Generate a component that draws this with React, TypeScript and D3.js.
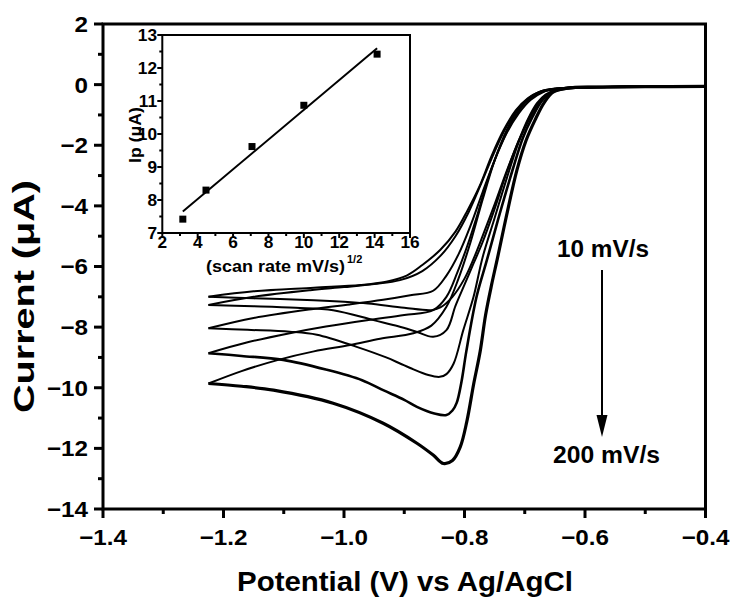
import React from "react";
import * as d3 from "d3";

// Forward (cathodic) branches: E (V) from -0.4 to -1.225, I (μA)
const F10: [number, number][] = [
  [-0.4, -0.06], [-0.5, -0.07], [-0.6, -0.09], [-0.645, -0.15], [-0.665, -0.32], [-0.68, -0.62], [-0.695, -1.15],
  [-0.71, -1.85], [-0.73, -2.85], [-0.75, -3.95], [-0.77, -5.0], [-0.785, -5.75], [-0.8, -6.4], [-0.82, -7.0],
  [-0.84, -7.35], [-0.855, -7.44], [-0.9, -7.36], [-0.96, -7.22], [-1.0, -7.16], [-1.05, -7.11], [-1.15, -7.05], [-1.225, -7.0],
];
const F20: [number, number][] = [
  [-0.4, -0.06], [-0.5, -0.07], [-0.6, -0.09], [-0.64, -0.14], [-0.66, -0.28], [-0.675, -0.55], [-0.69, -1.05],
  [-0.71, -1.85], [-0.73, -2.9], [-0.75, -4.1], [-0.77, -5.2], [-0.785, -5.9], [-0.8, -6.6], [-0.815, -7.3],
  [-0.83, -8.1], [-0.852, -8.32], [-0.88, -8.15], [-0.91, -7.97], [-0.951, -7.77], [-1.018, -7.44], [-1.08, -7.36], [-1.15, -7.31], [-1.225, -7.27],
];
const F50: [number, number][] = [
  [-0.4, -0.06], [-0.5, -0.07], [-0.61, -0.1], [-0.65, -0.22], [-0.67, -0.45], [-0.69, -1.0], [-0.71, -1.9],
  [-0.73, -3.1], [-0.75, -4.4], [-0.77, -5.7], [-0.785, -7.0], [-0.802, -8.1], [-0.818, -9.2], [-0.83, -9.55],
  [-0.841, -9.64], [-0.86, -9.58], [-0.89, -9.35], [-0.907, -9.2], [-0.93, -9.0], [-0.979, -8.65], [-1.045, -8.25], [-1.09, -8.15], [-1.16, -8.09], [-1.225, -8.04],
];
const F100: [number, number][] = [
  [-0.4, -0.06], [-0.5, -0.07], [-0.58, -0.08], [-0.635, -0.12], [-0.656, -0.25], [-0.672, -0.55], [-0.688, -1.1],
  [-0.703, -1.75], [-0.72, -2.8], [-0.745, -4.5], [-0.763, -5.8], [-0.78, -7.0], [-0.797, -8.8], [-0.805, -9.8],
  [-0.813, -10.5], [-0.82, -10.75], [-0.83, -10.9], [-0.85, -10.85], [-0.879, -10.63], [-0.9, -10.4], [-0.935, -10.08],
  [-0.97, -9.75], [-1.03, -9.4], [-1.101, -9.08], [-1.17, -8.95], [-1.225, -8.86],
];
const F200: [number, number][] = [
  [-0.4, -0.06], [-0.5, -0.07], [-0.58, -0.08], [-0.63, -0.12], [-0.653, -0.25], [-0.668, -0.6], [-0.683, -1.17],
  [-0.698, -1.85], [-0.713, -2.82], [-0.73, -4.3], [-0.745, -5.7], [-0.755, -6.6], [-0.765, -7.6], [-0.774, -8.8],
  [-0.785, -9.9], [-0.796, -11.1], [-0.807, -11.95], [-0.82, -12.4], [-0.835, -12.5], [-0.852, -12.22], [-0.879, -11.83],
  [-0.935, -11.17], [-1.018, -10.51], [-1.117, -10.08], [-1.17, -9.95], [-1.225, -9.86],
];

// Reverse (return) branches: E from -1.225 back to -0.4
const R10: [number, number][] = [
  [-1.225, -7.0], [-1.15, -6.82], [-1.05, -6.7], [-0.973, -6.61], [-0.93, -6.5], [-0.896, -6.3], [-0.87, -5.95],
  [-0.84, -5.45], [-0.815, -4.85], [-0.795, -4.15], [-0.775, -3.35], [-0.755, -2.35], [-0.735, -1.5], [-0.715, -0.85],
  [-0.695, -0.45], [-0.675, -0.23], [-0.65, -0.13], [-0.6, -0.09], [-0.5, -0.07], [-0.4, -0.06],
];
const R20: [number, number][] = [
  [-1.225, -7.27], [-1.15, -7.0], [-1.056, -6.78], [-1.0, -6.68], [-0.95, -6.58], [-0.907, -6.45], [-0.87, -6.15],
  [-0.84, -5.65], [-0.815, -5.0], [-0.793, -4.2], [-0.772, -3.25], [-0.752, -2.3], [-0.732, -1.45], [-0.712, -0.82],
  [-0.692, -0.43], [-0.672, -0.22], [-0.647, -0.13], [-0.6, -0.09], [-0.5, -0.07], [-0.4, -0.06],
];
const R50: [number, number][] = [
  [-1.225, -8.04], [-1.15, -7.7], [-1.051, -7.4], [-0.99, -7.25], [-0.935, -7.1], [-0.89, -6.95], [-0.852, -6.8],
  [-0.83, -6.3], [-0.81, -5.6], [-0.79, -4.65], [-0.77, -3.55], [-0.75, -2.5], [-0.73, -1.6], [-0.71, -0.95],
  [-0.69, -0.5], [-0.67, -0.25], [-0.645, -0.14], [-0.6, -0.09], [-0.5, -0.07], [-0.4, -0.06],
];
const R100: [number, number][] = [
  [-1.225, -8.86], [-1.16, -8.5], [-1.09, -8.2], [-1.03, -7.98], [-0.962, -7.77], [-0.9, -7.6], [-0.852, -7.44],
  [-0.83, -7.0], [-0.812, -6.2], [-0.795, -5.3], [-0.778, -4.25], [-0.76, -3.05], [-0.74, -2.0], [-0.72, -1.2],
  [-0.7, -0.62], [-0.68, -0.32], [-0.66, -0.18], [-0.63, -0.11], [-0.58, -0.08], [-0.5, -0.07], [-0.4, -0.06],
];
const R200: [number, number][] = [
  [-1.225, -9.86], [-1.17, -9.45], [-1.109, -9.08], [-1.05, -8.8], [-0.99, -8.59], [-0.94, -8.38], [-0.885, -8.2],
  [-0.855, -7.95], [-0.83, -7.33], [-0.81, -6.4], [-0.79, -5.2], [-0.77, -3.8], [-0.75, -2.5], [-0.73, -1.5],
  [-0.71, -0.8], [-0.69, -0.4], [-0.67, -0.2], [-0.64, -0.12], [-0.6, -0.09], [-0.5, -0.07], [-0.4, -0.06],
];

const branches = [F10, R10, F20, R20, F50, R50, F100, R100, F200, R200];
const branchWidths = [2, 2, 2, 2, 2, 2, 2.6, 2, 3.2, 2];

// Inset: peak current vs square root of scan rate
const sqrtRate = [3.16, 4.47, 7.07, 10.0, 14.14];
const peakCurrent = [7.42, 8.3, 9.62, 10.87, 12.42];
const fitX = [3.16, 14.14];
const fitY = [7.65, 12.6];

const mainXTicks = [-1.4, -1.2, -1.0, -0.8, -0.6, -0.4];
const mainXMinor = [-1.3, -1.1, -0.9, -0.7, -0.5];
const mainYTicks = [2, 0, -2, -4, -6, -8, -10, -12, -14];
const mainYMinor = [1, -1, -3, -5, -7, -9, -11, -13];
const insetXTicks = [2, 4, 6, 8, 10, 12, 14, 16];
const insetXMinor = [3, 5, 7, 9, 11, 13, 15];
const insetYTicks = [7, 8, 9, 10, 11, 12, 13];
const insetYMinor = [7.5, 8.5, 9.5, 10.5, 11.5, 12.5];

const FONT = "Arial, 'Liberation Sans', Helvetica, sans-serif";
const fmt = (v: number, d: number) => (v < 0 ? "\u2212" : "") + Math.abs(v).toFixed(d);

function SText(props: { x: number; y: number; sx: number; size: number; anchor: string; dy?: string; children: any }) {
  const { x, y, sx, size, anchor, dy, children } = props;
  return (
    <g transform={`translate(${x},${y}) scale(${sx},1)`}>
      <text x={0} y={0} dy={dy} textAnchor={anchor} fontSize={size} fontWeight="bold">
        {children}
      </text>
    </g>
  );
}

export default function App() {
  const W = 733, H = 598;
  const x = d3.scaleLinear().domain([-1.4, -0.4]).range([103, 705.5]);
  const y = d3.scaleLinear().domain([-14, 2]).range([509, 24]);
  const ix = d3.scaleLinear().domain([2, 16]).range([162.3, 410]);
  const iy = d3.scaleLinear().domain([7, 13]).range([233, 35]);

  const line = d3
    .line<[number, number]>()
    .x((d) => x(d[0]))
    .y((d) => y(d[1]))
    .curve(d3.curveCatmullRom.alpha(0.5));

  const x0 = x(-1.4), x1 = x(-0.4), y0 = y(-14), y1 = y(2);
  const ix0 = ix(2), ix1 = ix(16), iy0 = iy(7), iy1 = iy(13);

  return (
    <svg width={W} height={H} style={{ position: "absolute", left: 0, top: 0, background: "#fff" }} fontFamily={FONT}>
      <rect x={0} y={0} width={W} height={H} fill="#fff" />
      {/* curves */}
      <g fill="none" stroke="#000" strokeLinejoin="round">
        {branches.map((b, i) => (
          <path key={i} d={line(b) || ""} strokeWidth={branchWidths[i]} />
        ))}
      </g>

      {/* main frame */}
      <rect x={x0} y={y1} width={x1 - x0} height={y0 - y1} fill="none" stroke="#000" strokeWidth={3} />

      {/* main x ticks */}
      {mainXTicks.map((t) => (
        <g key={"mx" + t}>
          <line x1={x(t)} x2={x(t)} y1={y0} y2={y0 + 9} stroke="#000" strokeWidth={3} />
          <SText x={x(t)} y={545} sx={1.1} size={22} anchor="middle">
            {fmt(t, 1)}
          </SText>
        </g>
      ))}
      {mainXMinor.map((t) => (
        <line key={"mxm" + t} x1={x(t)} x2={x(t)} y1={y0} y2={y0 + 5} stroke="#000" strokeWidth={3} />
      ))}
      {/* main y ticks */}
      {mainYTicks.map((t) => (
        <g key={"my" + t}>
          <line x1={x0 - 9} x2={x0} y1={y(t)} y2={y(t)} stroke="#000" strokeWidth={3} />
          <SText x={88} y={y(t)} sx={1.1} size={22} anchor="end" dy="0.36em">
            {fmt(t, 0)}
          </SText>
        </g>
      ))}
      {mainYMinor.map((t) => (
        <line key={"mym" + t} x1={x0 - 5} x2={x0} y1={y(t)} y2={y(t)} stroke="#000" strokeWidth={3} />
      ))}

      {/* axis titles */}
      <text x={237} y={591} fontSize={28} fontWeight="bold" textLength={336} lengthAdjust="spacingAndGlyphs">
        Potential (V) vs Ag/AgCl
      </text>
      <text
        transform="translate(34,413) rotate(-90)"
        fontSize={30}
        fontWeight="bold"
        textLength={233}
        lengthAdjust="spacingAndGlyphs"
      >
        Current (μA)
      </text>

      {/* annotation */}
      <text x={557} y={257} fontSize={23} fontWeight="bold" textLength={92} lengthAdjust="spacingAndGlyphs">
        10 mV/s
      </text>
      <line x1={602} x2={602} y1={270} y2={418} stroke="#000" strokeWidth={2} />
      <path d={`M596.5,415 L607.5,415 L602,437 Z`} fill="#000" />
      <text x={553} y={463} fontSize={23} fontWeight="bold" textLength={107} lengthAdjust="spacingAndGlyphs">
        200 mV/s
      </text>

      {/* inset */}
      <rect x={ix0} y={iy1} width={ix1 - ix0} height={iy0 - iy1} fill="#fff" stroke="#000" strokeWidth={2} />
      {insetXTicks.map((t) => (
        <g key={"ix" + t}>
          <line x1={ix(t)} x2={ix(t)} y1={iy0} y2={iy0 + 5} stroke="#000" strokeWidth={2} />
          <SText x={ix(t)} y={248} sx={1.08} size={16} anchor="middle">{t}</SText>
        </g>
      ))}
      {insetXMinor.map((t) => (
        <line key={"ixm" + t} x1={ix(t)} x2={ix(t)} y1={iy0} y2={iy0 + 3} stroke="#000" strokeWidth={2} />
      ))}
      {insetYTicks.map((t) => (
        <g key={"iy" + t}>
          <line x1={ix0 - 5} x2={ix0} y1={iy(t)} y2={iy(t)} stroke="#000" strokeWidth={2} />
          <SText x={157} y={iy(t)} sx={1.08} size={16} anchor="end" dy="0.36em">{t}</SText>
        </g>
      ))}
      {insetYMinor.map((t) => (
        <line key={"iym" + t} x1={ix0 - 3} x2={ix0} y1={iy(t)} y2={iy(t)} stroke="#000" strokeWidth={2} />
      ))}
      <line x1={ix(fitX[0])} y1={iy(fitY[0])} x2={ix(fitX[1])} y2={iy(fitY[1])} stroke="#000" strokeWidth={2} />
      {sqrtRate.map((v, i) => (
        <rect key={"pt" + i} x={ix(v) - 3.5} y={iy(peakCurrent[i]) - 3.5} width={7} height={7} fill="#000" />
      ))}
      <text
        transform="translate(141,163) rotate(-90)"
        fontSize={17}
        fontWeight="bold"
        textLength={56}
        lengthAdjust="spacingAndGlyphs"
      >
        Ip (μA)
      </text>
      <text x={206} y={272} fontSize={17} fontWeight="bold" textLength={139} lengthAdjust="spacingAndGlyphs">
        (scan rate mV/s)
      </text>
      <text x={347} y={263} fontSize={11} fontWeight="bold">1/2</text>
    </svg>
  );
}
